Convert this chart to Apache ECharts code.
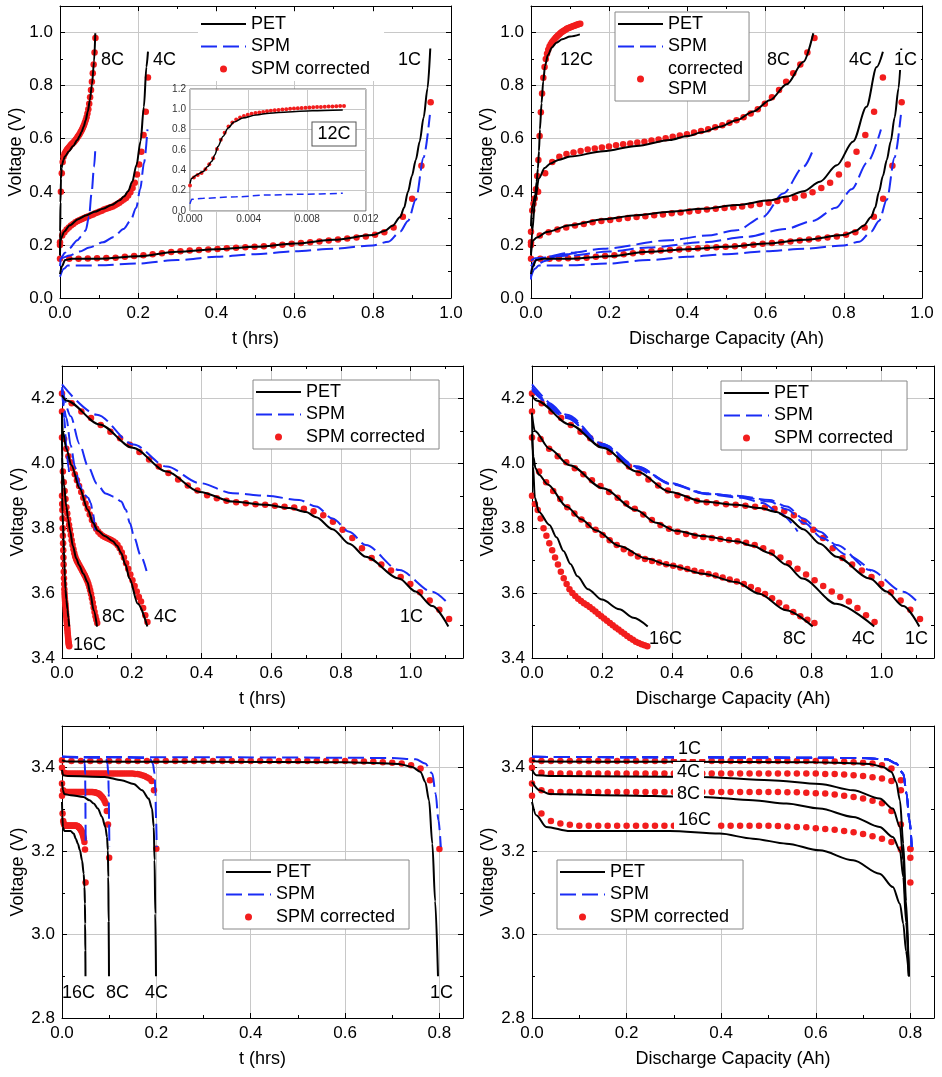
<!DOCTYPE html>
<html>
<head>
<meta charset="utf-8">
<script src="https://cdn.jsdelivr.net/npm/echarts@6/dist/echarts.min.js"></script>
<style>
  html, body { margin: 0; padding: 0; background: #fff; }
  #chart { width: 942px; height: 1077px; }
</style>
</head>
<body>
<div id="chart"></div>
<script>
// all curves are kept against discharge capacity (Ah); the time panels use t = capacity / C-rate
const rateNum = { '1C': 1, '4C': 4, '8C': 8, '12C': 12, '16C': 16 }

// ---------- top row ----------
const petTop12C = [[0,0.27],[0.0012,0.32],[0.0054,0.355],[0.0108,0.388],[0.0144,0.437],[0.0176,0.487],[0.0204,0.553],[0.0228,0.635],[0.027,0.734],[0.0312,0.816],[0.036,0.875],[0.0432,0.915],[0.054,0.945],[0.065,0.962],[0.08,0.975],[0.1,0.985],[0.125,0.993]]
const spmTop12C = [[0,0.07],[0.0015,0.115],[0.011,0.125],[0.038,0.14],[0.065,0.158],[0.092,0.165],[0.125,0.175]]
const corrTop12C = [0.25,0.33,0.355,0.375,0.41,0.46,0.52,0.61,0.70,0.77,0.83,0.87,0.90,0.92,0.935,0.947,0.956,0.963,0.969,0.975,0.98,0.985,0.99,0.994,0.998,1.002,1.005,1.008,1.011,1.014,1.016,1.018,1.02,1.022,1.024,1.026,1.027,1.029,1.03,1.032,1.033]

const petTop8C = [[0,0.16],[0.003,0.25],[0.01,0.36],[0.02,0.45],[0.035,0.49],[0.05,0.507],[0.07,0.52],[0.1,0.533],[0.185,0.553],[0.27,0.573],[0.355,0.595],[0.4,0.61],[0.44,0.625],[0.483,0.645],[0.526,0.67],[0.569,0.703],[0.611,0.745],[0.654,0.805],[0.697,0.89],[0.722,0.997]]
const spmTop8C = [[0,0.12],[0.02,0.15],[0.1,0.17],[0.185,0.186],[0.355,0.218],[0.45,0.235],[0.526,0.255],[0.594,0.306],[0.645,0.394],[0.697,0.494],[0.72,0.553]]
const corrTop8C = [0.21,0.40,0.47,0.512,0.532,0.542,0.548,0.554,0.559,0.563,0.567,0.571,0.575,0.579,0.582,0.586,0.589,0.593,0.597,0.602,0.607,0.612,0.617,0.623,0.629,0.636,0.643,0.651,0.660,0.670,0.681,0.695,0.711,0.732,0.756,0.784,0.815,0.847,0.88,0.925,0.979]

const petTop4C = [[0,0.17],[0.004,0.215],[0.015,0.228],[0.04,0.249],[0.1,0.274],[0.185,0.297],[0.27,0.312],[0.355,0.325],[0.44,0.336],[0.526,0.35],[0.611,0.368],[0.654,0.382],[0.697,0.402],[0.739,0.438],[0.782,0.5],[0.824,0.59],[0.858,0.72],[0.884,0.87],[0.9,0.928]]
const spmTop4C = [[0,0.14],[0.01,0.15],[0.1,0.16],[0.2,0.175],[0.3,0.19],[0.44,0.21],[0.55,0.23],[0.65,0.26],[0.72,0.29],[0.78,0.34],[0.82,0.41],[0.86,0.51],[0.895,0.635]]
const corrTop4C = [0.20,0.235,0.248,0.258,0.266,0.273,0.279,0.285,0.290,0.294,0.298,0.301,0.305,0.308,0.312,0.315,0.319,0.322,0.326,0.329,0.333,0.336,0.339,0.342,0.345,0.349,0.354,0.359,0.365,0.371,0.377,0.386,0.398,0.414,0.434,0.465,0.503,0.551,0.614,0.702,0.831]

const petTop1C = [[0,0.09],[0.005,0.12],[0.013,0.143],[0.03,0.148],[0.1,0.148],[0.2,0.157],[0.3,0.174],[0.4,0.184],[0.5,0.193],[0.6,0.205],[0.7,0.219],[0.8,0.237],[0.83,0.252],[0.85,0.272],[0.87,0.305],[0.88,0.34],[0.89,0.4],[0.9,0.46],[0.91,0.52],[0.92,0.59],[0.93,0.68],[0.94,0.79],[0.947,0.94]]
const spmTop1C = [[0,0.08],[0.01,0.11],[0.02,0.122],[0.1,0.123],[0.2,0.13],[0.3,0.143],[0.4,0.155],[0.5,0.165],[0.6,0.176],[0.7,0.186],[0.8,0.198],[0.84,0.212],[0.87,0.25],[0.89,0.29],[0.91,0.37],[0.93,0.53],[0.946,0.69]]
const corrTop1C = [0.148,0.148,0.148,0.149,0.150,0.151,0.152,0.155,0.158,0.161,0.165,0.169,0.173,0.176,0.179,0.181,0.183,0.185,0.187,0.189,0.191,0.193,0.195,0.198,0.201,0.204,0.207,0.210,0.213,0.217,0.220,0.224,0.228,0.232,0.238,0.248,0.266,0.306,0.374,0.498,0.737]

// capacity of the last corrected-SPM dot
const corrTopEnd = { '12C': 0.126, '8C': 0.725, '4C': 0.9, '1C': 0.948 }

// ---------- middle row ----------
const petMid16C = [[0,4.156],[0.003,3.99],[0.008,3.895],[0.02,3.85],[0.05,3.81],[0.07,3.772],[0.09,3.73],[0.11,3.69],[0.13,3.652],[0.16,3.612],[0.2,3.58],[0.25,3.55],[0.29,3.524],[0.331,3.497]]
const spmMid16C = [[0,4.225],[0.05,4.185],[0.1,4.14],[0.2,4.052],[0.3,3.985],[0.33,3.97]]
const corrMid16C = [3.90,3.875,3.856,3.83,3.80,3.777,3.754,3.732,3.71,3.688,3.666,3.646,3.628,3.612,3.60,3.591,3.583,3.576,3.569,3.563,3.557,3.55,3.543,3.536,3.529,3.522,3.515,3.508,3.501,3.494,3.488,3.481,3.475,3.468,3.462,3.456,3.45,3.446,3.442,3.439,3.436]

const petMid8C = [[0,4.09],[0.004,4.02],[0.01,3.985],[0.02,3.965],[0.045,3.935],[0.1,3.866],[0.14,3.828],[0.184,3.793],[0.25,3.745],[0.327,3.707],[0.393,3.686],[0.489,3.66],[0.584,3.634],[0.65,3.598],[0.727,3.547],[0.803,3.497]]
const spmMid8C = [[0,4.23],[0.1,4.14],[0.2,4.055],[0.3,3.988],[0.4,3.935],[0.5,3.905],[0.6,3.894],[0.66,3.878],[0.71,3.845],[0.76,3.79]]
const corrMid8C = [4.08,3.975,3.942,3.915,3.89,3.865,3.845,3.827,3.81,3.795,3.779,3.763,3.748,3.735,3.723,3.713,3.705,3.699,3.694,3.689,3.684,3.679,3.674,3.669,3.664,3.659,3.654,3.648,3.642,3.636,3.628,3.619,3.609,3.597,3.584,3.57,3.556,3.542,3.529,3.518,3.508]

const petMid4C = [[0,4.15],[0.008,4.1],[0.05,4.045],[0.108,3.994],[0.203,3.923],[0.298,3.856],[0.355,3.817],[0.412,3.792],[0.489,3.776],[0.584,3.76],[0.631,3.746],[0.679,3.724],[0.727,3.688],[0.774,3.645],[0.87,3.567],[0.979,3.497]]
const spmMid4C = [[0,4.235],[0.1,4.145],[0.2,4.06],[0.3,3.99],[0.4,3.937],[0.5,3.907],[0.6,3.897],[0.68,3.882],[0.73,3.858],[0.78,3.815],[0.83,3.77],[0.9,3.718],[0.97,3.668]]
const corrMid4C = [4.16,4.075,4.045,4.022,4.003,3.985,3.966,3.948,3.93,3.912,3.894,3.876,3.86,3.842,3.825,3.81,3.798,3.789,3.782,3.777,3.773,3.77,3.767,3.764,3.76,3.755,3.748,3.738,3.725,3.71,3.692,3.675,3.657,3.64,3.622,3.605,3.588,3.574,3.554,3.532,3.511]

const petMid1C = [[0,4.21],[0.012,4.194],[0.108,4.12],[0.203,4.048],[0.3,3.975],[0.395,3.912],[0.49,3.882],[0.586,3.872],[0.652,3.862],[0.7,3.85],[0.729,3.834],[0.776,3.797],[0.824,3.752],[0.871,3.712],[0.967,3.645],[1.014,3.605],[1.062,3.56],[1.108,3.497]]
const spmMid1C = [[0,4.243],[0.1,4.15],[0.205,4.058],[0.3,3.99],[0.395,3.939],[0.49,3.908],[0.586,3.9],[0.68,3.887],[0.729,3.867],[0.776,3.83],[0.824,3.789],[0.871,3.748],[0.967,3.671],[1.062,3.604],[1.11,3.565]]
const corrMid1C = [4.215,4.185,4.16,4.14,4.118,4.097,4.077,4.057,4.035,4.012,3.99,3.97,3.95,3.932,3.916,3.902,3.892,3.885,3.88,3.877,3.874,3.872,3.869,3.866,3.864,3.86,3.852,3.84,3.82,3.795,3.77,3.738,3.708,3.688,3.67,3.65,3.628,3.603,3.577,3.549,3.52]

const corrMidEnd = { '16C': 0.33, '8C': 0.808, '4C': 0.98, '1C': 1.11 }

// ---------- bottom row ----------
const petBot16C = [[0,3.318],[0.009,3.286],[0.03,3.258],[0.08,3.248],[0.291,3.248],[0.397,3.242],[0.467,3.23],[0.538,3.218],[0.608,3.202],[0.679,3.178],[0.735,3.146],[0.763,3.114],[0.778,3.074],[0.785,3.026],[0.791,2.96],[0.797,2.9]]
const petBot8C = [[0,3.366],[0.016,3.346],[0.037,3.337],[0.15,3.334],[0.362,3.33],[0.467,3.322],[0.538,3.314],[0.608,3.302],[0.679,3.282],[0.735,3.258],[0.763,3.234],[0.778,3.202],[0.785,3.138],[0.791,3.03],[0.797,2.9]]
const petBot4C = [[0,3.395],[0.009,3.382],[0.05,3.38],[0.362,3.378],[0.503,3.37],[0.608,3.361],[0.679,3.346],[0.735,3.326],[0.763,3.302],[0.778,3.258],[0.785,3.178],[0.791,3.05],[0.797,2.9]]
const petBot1C = [[0,3.418],[0.01,3.415],[0.3,3.414],[0.6,3.413],[0.644,3.412],[0.714,3.409],[0.742,3.402],[0.76,3.39],[0.77,3.366],[0.778,3.322],[0.785,3.218],[0.791,3.08],[0.797,2.9]]
// SPM gives the same curve at every rate here
const spmBot = [[0,3.426],[0.3,3.425],[0.6,3.424],[0.7,3.423],[0.75,3.42],[0.77,3.41],[0.785,3.386],[0.792,3.338],[0.798,3.274],[0.803,3.21]]

const corrBot16C = [3.333,3.29,3.272,3.266,3.263,3.261,3.261,3.261,3.261,3.261,3.261,3.261,3.261,3.261,3.261,3.261,3.261,3.261,3.261,3.261,3.261,3.261,3.261,3.261,3.261,3.261,3.26,3.259,3.258,3.257,3.255,3.253,3.251,3.248,3.245,3.241,3.236,3.23,3.222,3.204,3.125]
const corrBot8C = [3.362,3.346,3.342,3.342,3.342,3.342,3.342,3.342,3.342,3.342,3.342,3.342,3.342,3.342,3.342,3.342,3.342,3.342,3.342,3.342,3.342,3.342,3.342,3.342,3.342,3.342,3.342,3.341,3.341,3.34,3.339,3.338,3.336,3.333,3.33,3.326,3.321,3.315,3.296,3.264,3.184]
const corrBot4C = [3.40,3.388,3.386,3.386,3.386,3.386,3.386,3.386,3.386,3.386,3.386,3.386,3.386,3.386,3.386,3.386,3.386,3.386,3.386,3.386,3.386,3.386,3.386,3.386,3.386,3.386,3.386,3.386,3.386,3.386,3.386,3.385,3.385,3.384,3.382,3.38,3.377,3.374,3.368,3.346,3.206]
const corrBot1C = [3.418,3.416,3.416,3.416,3.416,3.416,3.416,3.416,3.416,3.416,3.416,3.416,3.416,3.416,3.416,3.416,3.416,3.416,3.416,3.416,3.416,3.416,3.416,3.416,3.416,3.416,3.416,3.416,3.416,3.416,3.416,3.415,3.415,3.414,3.413,3.412,3.41,3.406,3.398,3.37,3.205]

const corrBotEnd = { '16C': 0.8, '8C': 0.8, '4C': 0.8, '1C': 0.8 }

// ---------- styling ----------
const FONT = 'Liberation Sans, Arial, sans-serif'
const RED = '#f21d1d'
const BLUE = '#1a2cf5'
const GRIDLINE = '#c8c8c8'

const chart = echarts.init(document.getElementById('chart'))

const grids = [
  { left: 60, top: 6, width: 391, height: 292 },
  { left: 531, top: 6, width: 391, height: 292 },
  { left: 62, top: 366, width: 401, height: 292 },
  { left: 532, top: 366, width: 402, height: 292 },
  { left: 62, top: 726, width: 401, height: 292 },
  { left: 532, top: 726, width: 402, height: 292 },
  // 12C inset
  { left: 190, top: 89, width: 176, height: 122, show: true, backgroundColor: '#fff', borderColor: '#666', borderWidth: 1, z: 5 }
]

const panels = [
  { x: [0, 1.0], y: [0, 1.1], xName: 't (hrs)', hideMaxX: false },
  { x: [0, 1.0], y: [0, 1.1], xName: 'Discharge Capacity (Ah)', hideMaxX: false },
  { x: [0, 1.15], y: [3.4, 4.3], xName: 't (hrs)', hideMaxX: true },
  { x: [0, 1.15], y: [3.4, 4.3], xName: 'Discharge Capacity (Ah)', hideMaxX: true },
  { x: [0, 0.85], y: [2.8, 3.5], xName: 't (hrs)', hideMaxX: true },
  { x: [0, 0.85], y: [2.8, 3.5], xName: 'Discharge Capacity (Ah)', hideMaxX: true }
]

const fmt1 = v => v.toFixed(1)

function makeAxis(gridIndex, range, position, main, opts) {
  return {
    type: 'value',
    gridIndex,
    position,
    min: range[0],
    max: range[1],
    interval: 0.2,
    axisLine: { show: true, onZero: false, lineStyle: { color: '#000', width: 1 } },
    axisTick: { show: true, inside: true, length: 5, lineStyle: { color: '#000' } },
    minorTick: { show: true, splitNumber: 2, length: 3, lineStyle: { color: '#000' } },
    splitLine: { show: main, lineStyle: { color: GRIDLINE, width: 1 } },
    axisLabel: {
      show: main,
      formatter: fmt1,
      fontSize: 17,
      fontFamily: FONT,
      color: '#000',
      margin: opts.margin,
      showMaxLabel: opts.hideMax ? false : null
    },
    name: main ? opts.name : '',
    nameLocation: 'middle',
    nameGap: opts.nameGap,
    nameTextStyle: { fontSize: 18, fontFamily: FONT, color: '#000' }
  }
}

const xAxes = []
const yAxes = []
panels.forEach((p, g) => {
  xAxes.push(makeAxis(g, p.x, 'bottom', true, { name: p.xName, nameGap: 32, margin: 7, hideMax: p.hideMaxX }))
  xAxes.push(makeAxis(g, p.x, 'top', false, {}))
  yAxes.push(makeAxis(g, p.y, 'left', true, { name: 'Voltage (V)', nameGap: 33, margin: 7, hideMax: true }))
  yAxes.push(makeAxis(g, p.y, 'right', false, {}))
})

// inset axes (index 12)
xAxes.push({
  type: 'value', gridIndex: 6, min: 0, max: 0.012, interval: 0.004, z: 5,
  axisLine: { show: false }, axisTick: { show: false },
  splitLine: { show: true, lineStyle: { color: GRIDLINE } },
  axisLabel: { formatter: v => v.toFixed(3), fontSize: 10, fontFamily: FONT, color: '#333', margin: 3 }
})
yAxes.push({
  type: 'value', gridIndex: 6, min: 0, max: 1.2, interval: 0.2, z: 5,
  axisLine: { show: false }, axisTick: { show: false },
  splitLine: { show: true, lineStyle: { color: GRIDLINE } },
  axisLabel: { formatter: fmt1, fontSize: 10, fontFamily: FONT, color: '#333', margin: 4 }
})

const series = []

function addCurves(axis, rate, pet, spm, corr, corrEnd, useTime, small) {
  const c = useTime ? rateNum[rate] : 1
  const scale = pts => pts.map(p => [p[0] / c, p[1]])
  const dots = corr.map((v, i) => [corrEnd * i / (corr.length - 1) / c, v])
  const z0 = small ? 6 : 2
  series.push({
    name: 'SPM corrected', type: 'scatter', xAxisIndex: axis, yAxisIndex: axis,
    data: dots, symbol: 'circle', symbolSize: small ? 4 : 6.5,
    itemStyle: { color: RED, opacity: 1 }, z: z0, silent: true
  })
  series.push({
    name: 'SPM', type: 'line', xAxisIndex: axis, yAxisIndex: axis,
    data: scale(spm), symbol: 'none', showSymbol: false, smooth: 0.3, smoothMonotone: 'x',
    lineStyle: { color: BLUE, width: small ? 1.5 : 2, type: small ? [7, 4] : [16, 6] },
    itemStyle: { color: BLUE }, z: z0 + 1, silent: true
  })
  series.push({
    name: 'PET', type: 'line', xAxisIndex: axis, yAxisIndex: axis,
    data: scale(pet), symbol: 'none', showSymbol: false, smooth: 0.3, smoothMonotone: 'x',
    lineStyle: { color: '#000', width: small ? 1.5 : 2 },
    itemStyle: { color: '#000' }, z: z0 + 2, silent: true
  })
}

const topRow = {
  '12C': [petTop12C, spmTop12C, corrTop12C],
  '8C': [petTop8C, spmTop8C, corrTop8C],
  '4C': [petTop4C, spmTop4C, corrTop4C],
  '1C': [petTop1C, spmTop1C, corrTop1C]
}
const midRow = {
  '16C': [petMid16C, spmMid16C, corrMid16C],
  '8C': [petMid8C, spmMid8C, corrMid8C],
  '4C': [petMid4C, spmMid4C, corrMid4C],
  '1C': [petMid1C, spmMid1C, corrMid1C]
}
const botRow = {
  '16C': [petBot16C, spmBot, corrBot16C],
  '8C': [petBot8C, spmBot, corrBot8C],
  '4C': [petBot4C, spmBot, corrBot4C],
  '1C': [petBot1C, spmBot, corrBot1C]
}

;[[topRow, corrTopEnd, 0], [midRow, corrMidEnd, 4], [botRow, corrBotEnd, 8]].forEach(([row, ends, a]) => {
  Object.keys(row).forEach(rate => {
    const [pet, spm, corr] = row[rate]
    // time panel (12C is only shown in the inset)
    if (rate !== '12C') addCurves(a, rate, pet, spm, corr, ends[rate], true, false)
    addCurves(a + 2, rate, pet, spm, corr, ends[rate], false, false)
  })
})
// inset: 12C against time
addCurves(12, '12C', petTop12C, spmTop12C, corrTop12C, corrTopEnd['12C'], true, true)

// line entries show only their line sample, no marker
const legendData = [
  { name: 'PET', itemStyle: { opacity: 0 } },
  { name: 'SPM', itemStyle: { opacity: 0 } },
  { name: 'SPM corrected' }
]
const legendBase = {
  orient: 'vertical', align: 'left', itemWidth: 45, itemHeight: 7, itemGap: 2.5,
  textStyle: { fontSize: 18, fontFamily: FONT, color: '#000', lineHeight: 20 },
  backgroundColor: '#fff', borderColor: '#888', borderWidth: 1, borderRadius: 0,
  padding: [2, 14, 2, 2], selectedMode: false,
  data: legendData
}
const legends = [
  Object.assign({}, legendBase, { left: 198, top: 12, borderWidth: 0 }),
  Object.assign({}, legendBase, { left: 615, top: 12, padding: [2, 6, 2, 2], formatter: n => n === 'SPM corrected' ? 'corrected\nSPM' : n }),
  Object.assign({}, legendBase, { left: 253, top: 380 }),
  Object.assign({}, legendBase, { left: 721, top: 381 }),
  Object.assign({}, legendBase, { left: 223, top: 860 }),
  Object.assign({}, legendBase, { left: 557, top: 860 })
]

function label(text, x, y, boxed) {
  return {
    type: 'text', x, y, z: 20,
    style: Object.assign({
      text, font: '18px ' + FONT, fill: '#000', align: 'left', verticalAlign: 'middle'
    }, boxed ? { backgroundColor: '#fff', padding: [1, 4] } : {})
  }
}

const graphic = [
  label('8C', 101, 60), label('4C', 153, 60), label('1C', 398, 60),
  {
    type: 'text', x: 334, y: 134, z: 20,
    style: {
      text: '12C', font: '18px ' + FONT, fill: '#000', align: 'center', verticalAlign: 'middle',
      backgroundColor: '#fff', borderColor: '#555', borderWidth: 1, padding: [3, 5, 2, 5]
    }
  },
  label('12C', 560, 60), label('8C', 767, 60), label('4C', 849, 60), label('1C', 890, 60, true),
  label('16C', 73, 645), label('8C', 102, 617), label('4C', 154, 617), label('1C', 400, 617),
  label('16C', 649, 639), label('8C', 783, 639), label('4C', 852, 639), label('1C', 905, 639),
  label('16C', 62, 993), label('8C', 106, 993), label('4C', 145, 993), label('1C', 430, 993),
  label('1C', 674, 749, true), label('4C', 673, 772, true), label('8C', 673, 794, true), label('16C', 674, 820, true)
]

chart.setOption({
  animation: false,
  backgroundColor: '#fff',
  grid: grids,
  xAxis: xAxes,
  yAxis: yAxes,
  legend: legends,
  graphic,
  series
})
</script>
</body>
</html>
